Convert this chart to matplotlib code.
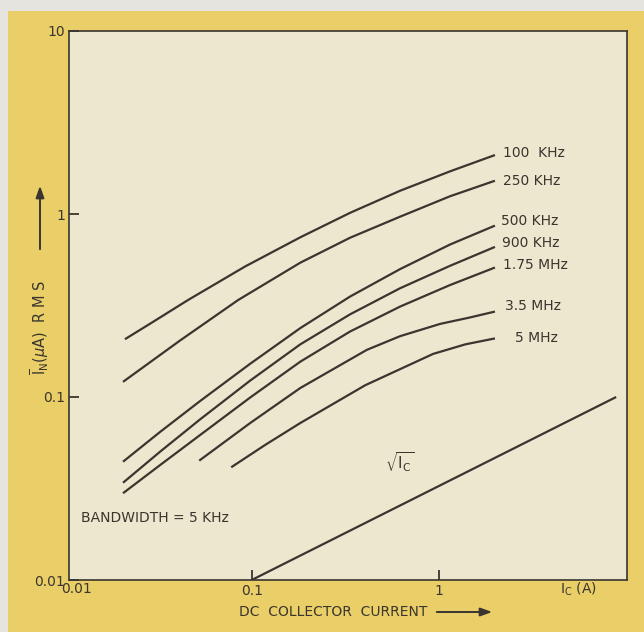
import matplotlib
matplotlib.use("Agg")
import matplotlib.pyplot as plt
from matplotlib.patches import Rectangle, FancyArrowPatch

# ---------------- data ----------------
labels = ["100  KHz", "250 KHz", "500 KHz", "900 KHz", "1.75 MHz", "3.5 MHz", "5 MHz"]

x_100k = [0.021, 0.0287, 0.0457, 0.0923, 0.182, 0.336, 0.622, 1.15, 2.0]
y_100k = [0.207, 0.252, 0.339, 0.517, 0.746, 1.015, 1.34, 1.71, 2.10]

x_250k = [0.0205, 0.0415, 0.0847, 0.182, 0.336, 0.622, 1.15, 2.0]
y_250k = [0.121, 0.204, 0.339, 0.542, 0.742, 0.967, 1.25, 1.52]

x_500k = [0.0205, 0.0324, 0.053, 0.0982, 0.182, 0.336, 0.622, 1.15, 2.0]
y_500k = [0.0443, 0.0645, 0.0951, 0.152, 0.238, 0.354, 0.500, 0.681, 0.864]

x_900k = [0.0205, 0.0324, 0.053, 0.0982, 0.182, 0.336, 0.622, 1.15, 2.0]
y_900k = [0.0340, 0.0503, 0.0755, 0.123, 0.194, 0.283, 0.393, 0.521, 0.661]

x_175m = [0.0205, 0.0324, 0.053, 0.0982, 0.182, 0.336, 0.622, 1.15, 2.0]
y_175m = [0.0298, 0.0425, 0.0620, 0.0994, 0.156, 0.228, 0.312, 0.409, 0.510]

x_35m = [0.0524, 0.0982, 0.182, 0.413, 0.622, 1.02, 1.47, 2.0]
y_35m = [0.0449, 0.0721, 0.112, 0.181, 0.215, 0.251, 0.272, 0.293]

x_5m = [0.0777, 0.118, 0.182, 0.405, 0.934, 1.39, 2.0]
y_5m = [0.0413, 0.0547, 0.0721, 0.116, 0.172, 0.194, 0.209]

x_sqrt = [0.1, 8.9]
y_sqrt = [0.01, 0.1]

series_x = [x_100k, x_250k, x_500k, x_900k, x_175m, x_35m, x_5m]
series_y = [y_100k, y_250k, y_500k, y_900k, y_175m, y_35m, y_5m]

# ---------------- style ----------------
W, H = 644, 632
YELLOW = "#EACF68"
CREAM = "#EDE7CF"
BORDER = "#E6E4DF"
INK = "#3A352F"
FONT = "DejaVu Sans"

plt.rcParams["font.family"] = [FONT]
plt.rcParams["mathtext.fontset"] = "dejavusans"

fig = plt.figure(figsize=(W / 100, H / 100), dpi=100, facecolor=BORDER)
fig.patches.append(Rectangle((8 / W, 0), 1 - 8 / W, 1 - 11 / H,
                             transform=fig.transFigure, facecolor=YELLOW,
                             edgecolor="none", zorder=-10))

ax = fig.add_axes([69 / W, 1 - 580 / H, (627 - 69) / W, (580 - 31) / H])
ax.set_facecolor(CREAM)
ax.set_xscale("log")
ax.set_yscale("log")
ax.set_xlim(0.01054, 10.17)
ax.set_ylim(0.01, 10)

for xs, ys in zip(series_x, series_y):
    ax.plot(xs, ys, color=INK, lw=1.6, solid_capstyle="butt", solid_joinstyle="round")
ax.plot(x_sqrt, y_sqrt, color=INK, lw=1.6, solid_capstyle="butt")

for sp in ax.spines.values():
    sp.set_color(INK)
    sp.set_linewidth(1.2)

ax.set_xticks([0.1, 1])
ax.set_xticklabels(["0.1", "1"])
ax.set_yticks([0.01, 0.1, 1, 10])
ax.set_yticklabels(["0.01", "0.1", "1", "10"])
ax.minorticks_off()
ax.tick_params(axis="both", direction="in", length=7, width=1.3, color=INK,
               labelcolor=INK, labelsize=10, pad=3)


def px(xp, yp):
    return ((xp - 69) / (627 - 69), (580 - yp) / (580 - 31))


label_pos = [(503, 153), (503, 181), (501, 221), (502, 243), (503, 265), (505, 306), (515, 338)]
for lab, (xp, yp) in zip(labels, label_pos):
    ax.text(*px(xp, yp), lab, transform=ax.transAxes, ha="left", va="center",
            fontsize=10, color=INK)

ax.text(*px(81, 518), "BANDWIDTH = 5 KHz", transform=ax.transAxes, ha="left",
        va="center", fontsize=10, color=INK)
ax.text(*px(400, 462), r"$\sqrt{\mathrm{I_C}}$", transform=ax.transAxes,
        ha="center", va="center", fontsize=11, color=INK)

fig.text(76 / W, 1 - 589 / H, "0.01", ha="center", va="center", fontsize=10, color=INK)
fig.text(578 / W, 1 - 589 / H, r"$\mathrm{I_C}$ (A)", ha="center", va="center",
         fontsize=10, color=INK)

# x-axis title with arrow
fig.text(333 / W, 1 - 612 / H, "DC  COLLECTOR  CURRENT", ha="center", va="center",
         fontsize=10, color=INK)
fig.patches.append(FancyArrowPatch(
    (434 / W, 1 - 612 / H), (495 / W, 1 - 612 / H), transform=fig.transFigure,
    arrowstyle="-|>,head_length=7,head_width=2.5", color=INK, lw=1.4))

# y-axis title with arrow
fig.text(40 / W, 1 - 327 / H, r"$\overline{\mathrm{I}}_{\mathrm{N}}$($\mu$A)  R M S",
         rotation=90, ha="center", va="center", fontsize=10.5, color=INK)
fig.patches.append(FancyArrowPatch(
    (40 / W, 1 - 252 / H), (40 / W, 1 - 183 / H), transform=fig.transFigure,
    arrowstyle="-|>,head_length=7,head_width=2.5", color=INK, lw=1.4))

fig.savefig("out.png", dpi=100, facecolor=fig.get_facecolor())
